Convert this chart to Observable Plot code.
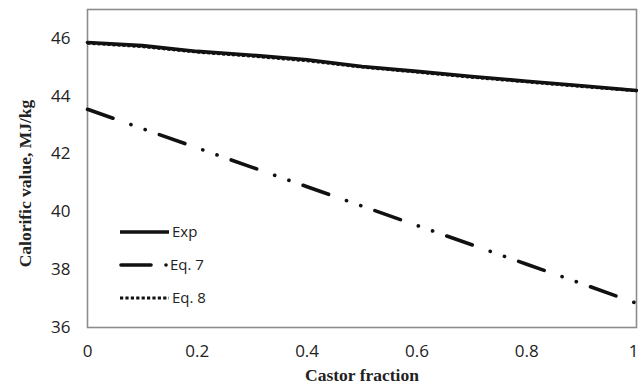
<!DOCTYPE html>
<html>
<head>
<meta charset="utf-8">
<script src="https://cdn.jsdelivr.net/npm/d3@7"></script>
<script src="https://cdn.jsdelivr.net/npm/@observablehq/plot@0.6"></script>
<style>
  html, body { margin: 0; padding: 0; background: #fff; }
  #wrap { position: relative; width: 638px; height: 388px; }
  #legend { position: absolute; left: 0; top: 0; width: 638px; height: 388px; pointer-events: none; }
  .lt { font-family: "Open Sans", "Liberation Sans", sans-serif; font-size: 15px; fill: #222; }
</style>
</head>
<body>
<div id="wrap"></div>
<script>
const castorFraction = [0, 0.1, 0.2, 0.3, 0.4, 0.5, 0.6, 0.7, 0.8, 0.9, 1.0];
const expValues  = [45.86, 45.75, 45.55, 45.42, 45.26, 45.03, 44.86, 44.68, 44.52, 44.36, 44.2];
const eq7Values  = [43.55, 42.88, 42.21, 41.54, 40.87, 40.2, 39.53, 38.86, 38.19, 37.52, 36.84];
const eq8Values  = [45.84, 45.72, 45.53, 45.39, 45.23, 45.01, 44.84, 44.66, 44.5, 44.34, 44.19];
const seriesNames = ["Exp", "Eq. 7", "Eq. 8"];
const xTicks = [0, 0.2, 0.4, 0.6, 0.8, 1];
const yTicks = [36, 38, 40, 42, 44, 46];

const rows = (vals) => castorFraction.map((x, i) => ({x, y: vals[i]}));
const exp = rows(expValues), eq7 = rows(eq7Values), eq8 = rows(eq8Values);

const styles = {
  "Exp":   {strokeWidth: 3.6, dash: null},
  "Eq. 7": {strokeWidth: 3.6, dash: "27,19,0.1,15,0.1,15"},
  "Eq. 8": {strokeWidth: 3.2, dash: "3,2"}
};

const tickFont = {fontSize: 17, fontFamily: "Open Sans", fill: "#222"};

const chart = Plot.plot({
  width: 638,
  height: 388,
  marginLeft: 87,
  marginRight: 2,
  marginTop: 9,
  marginBottom: 61,
  style: {background: "#fff", overflow: "visible", fontSize: "17px"},
  x: {domain: [0, 1], label: null},
  y: {domain: [36, 47], label: null},
  marks: [
    Plot.frame({stroke: "#8c8c8c", strokeWidth: 1.6}),
    Plot.axisX({ticks: xTicks.filter(d => d < 1), tickSize: 0, tickPadding: 17,
      tickFormat: d => String(d), label: null, ...tickFont}),
    Plot.axisX({ticks: xTicks.filter(d => d === 1), tickSize: 0, tickPadding: 17,
      tickFormat: d => String(d), label: null, dx: -3, ...tickFont}),
    Plot.axisY({ticks: yTicks, tickSize: 0, tickPadding: 17, label: null, ...tickFont}),
    Plot.line(eq7, {x: "x", y: "y", stroke: "#111", strokeWidth: styles["Eq. 7"].strokeWidth,
      strokeDasharray: styles["Eq. 7"].dash, strokeLinecap: "round"}),
    Plot.line(eq8, {x: "x", y: "y", stroke: "#111", strokeWidth: styles["Eq. 8"].strokeWidth,
      strokeDasharray: styles["Eq. 8"].dash, strokeLinecap: "butt"}),
    Plot.line(exp, {x: "x", y: "y", stroke: "#111", strokeWidth: styles["Exp"].strokeWidth}),
    Plot.text(["Castor fraction"], {frameAnchor: "bottom", dy: 53, text: d => d,
      fontFamily: "Liberation Serif", fontWeight: "bold", fontSize: 17.5, fill: "#222"}),
    Plot.text(["Calorific value, MJ/kg"], {frameAnchor: "left", textAnchor: "middle", lineAnchor: "middle",
      dx: -62, dy: 15, rotate: -90, text: d => d,
      fontFamily: "Liberation Serif", fontWeight: "bold", fontSize: 17.5, fill: "#222"})
  ]
});

const wrap = document.getElementById("wrap");
wrap.appendChild(chart);

// Legend overlay (inside plot area)
const ns = "http://www.w3.org/2000/svg";
const lg = document.createElementNS(ns, "svg");
lg.setAttribute("id", "legend");
lg.setAttribute("width", 638);
lg.setAttribute("height", 388);
const legendY = [232, 265, 298];
seriesNames.forEach((name, i) => {
  const y = legendY[i];
  if (name === "Eq. 7") {
    const l = document.createElementNS(ns, "line");
    l.setAttribute("x1", 121); l.setAttribute("x2", 151);
    l.setAttribute("y1", y); l.setAttribute("y2", y);
    l.setAttribute("stroke", "#111"); l.setAttribute("stroke-width", 3.6);
    l.setAttribute("stroke-linecap", "round");
    lg.appendChild(l);
    const c = document.createElementNS(ns, "circle");
    c.setAttribute("cx", 166); c.setAttribute("cy", y); c.setAttribute("r", 1.8);
    c.setAttribute("fill", "#111");
    lg.appendChild(c);
  } else {
    const l = document.createElementNS(ns, "line");
    l.setAttribute("x1", 120); l.setAttribute("x2", 169);
    l.setAttribute("y1", y); l.setAttribute("y2", y);
    l.setAttribute("stroke", "#111"); l.setAttribute("stroke-width", styles[name].strokeWidth);
    if (styles[name].dash) l.setAttribute("stroke-dasharray", "3.2,2.2");
    lg.appendChild(l);
  }
  const t = document.createElementNS(ns, "text");
  t.setAttribute("x", name === "Eq. 7" ? 170 : 172);
  t.setAttribute("y", y);
  t.setAttribute("dy", "0.35em");
  t.setAttribute("class", "lt");
  t.textContent = name;
  lg.appendChild(t);
});
wrap.appendChild(lg);
</script>
</body>
</html>
